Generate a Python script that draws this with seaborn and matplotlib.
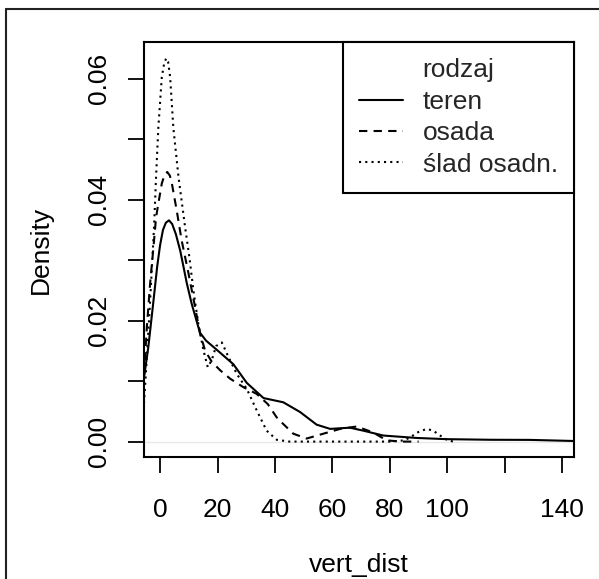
import matplotlib
matplotlib.use("Agg")
import matplotlib.pyplot as plt
from matplotlib.lines import Line2D
import seaborn as sns
import pandas as pd

# density curves
teren_x = [-5.6, -4.1, -2.3, -1.0, 0.0, 1.0, 2.0, 3.1, 4.2, 5.5, 7.0, 8.2, 9.3, 11.0, 12.8,
           13.9, 16.0, 19.7, 25.5, 30.2, 36.0, 42.9, 48.7, 54.5, 59.2, 66.1, 70.8, 77.7,
           89.3, 99.8, 115.0, 128.8, 144.0]
teren_y = [0.0106, 0.0156, 0.0233, 0.0290, 0.0325, 0.0350, 0.0362, 0.0366, 0.0360, 0.0343,
           0.0316, 0.0288, 0.0262, 0.0228, 0.0198, 0.0180, 0.0167, 0.0152, 0.0128, 0.0097,
           0.0072, 0.0065, 0.0049, 0.0028, 0.0021, 0.0023, 0.0018, 0.0010, 0.0006, 0.0004,
           0.0003, 0.00028, 0.0001]

osada_x = [-5.6, -4.6, -3.5, -2.3, -1.4, -0.6, 0.6, 1.6, 2.5, 3.4, 4.1, 5.8, 7.5, 9.9, 12.2,
           13.9, 15.7, 18.0, 20.9, 24.4, 29.0, 33.6, 37.5, 40.6, 42.9, 46.4, 51.0, 56.8,
           62.7, 68.5, 74.2, 78.9, 84.0, 90.0]
osada_y = [0.0110, 0.0190, 0.0260, 0.0322, 0.0371, 0.0394, 0.0427, 0.0442, 0.0446, 0.0440,
           0.0427, 0.0382, 0.0333, 0.0278, 0.0222, 0.0179, 0.0150, 0.0132, 0.0118, 0.0104,
           0.0090, 0.0079, 0.0062, 0.0040, 0.0029, 0.0013, 0.0005, 0.0013, 0.0021, 0.0025,
           0.0015, 0.0002, 0.0, 0.0]

slad_x = [-5.6, -4.6, -3.5, -2.1, -1.4, -0.6, 0.6, 1.4, 2.1, 2.8, 3.5, 4.6, 6.4, 8.7, 10.2,
          11.6, 13.3, 15.1, 16.6, 18.0, 19.5, 21.5, 23.8, 26.7, 30.2, 33.7, 37.1, 40.6, 45.0,
          60.0, 80.0, 85.0, 87.0, 90.0, 92.8, 95.1, 97.5, 99.8, 102.0]
slad_y = [0.0063, 0.0140, 0.0230, 0.0355, 0.0438, 0.0520, 0.0603, 0.0625, 0.0634, 0.0628,
          0.0603, 0.0520, 0.0438, 0.0355, 0.0305, 0.0250, 0.0195, 0.0151, 0.0123, 0.0135,
          0.0158, 0.0164, 0.0140, 0.0112, 0.0087, 0.0051, 0.0018, 0.0003, 0.0, 0.0, 0.0,
          0.0002, 0.0007, 0.0016, 0.0021, 0.0018, 0.0010, 0.0003, 0.0]

series_labels = ["teren", "osada", "ślad osadn."]
legend_title = "rodzaj"
x_ticks = [0, 20, 40, 60, 80, 100, 120, 140]
x_tick_labels = ["0", "20", "40", "60", "80", "100", "", "140"]
y_ticks = [0.00, 0.01, 0.02, 0.03, 0.04, 0.05, 0.06]
y_tick_labels = ["0.00", "", "0.02", "", "0.04", "", "0.06"]

sns.set_theme(style="white")
plt.rcParams['font.family'] = ['Liberation Sans', 'DejaVu Sans']

W, H = 599, 579
fig = plt.figure(figsize=(W / 100, H / 100), dpi=100)
ax = fig.add_axes([144 / W, 1 - 457 / H, (574 - 144) / W, (457 - 42) / H])

styles = ["-", (0, (4, 3)), (0, (1, 2))]
xs = [teren_x, osada_x, slad_x]
ys = [teren_y, osada_y, slad_y]
lw = 1.5
ax.axhline(0, color="#e8e8e8", lw=1.0, zorder=1)
for x, y, ls in zip(xs, ys, styles):
    sns.lineplot(x=x, y=y, ax=ax, color="black", linewidth=lw, linestyle=ls, zorder=3)

ax.set_xlim(-5.6, 144.1)
ax.set_ylim(-0.00255, 0.0661)
ax.set_xticks(x_ticks)
ax.set_xticklabels(x_tick_labels)
ax.set_yticks(y_ticks)
ax.set_yticklabels(y_tick_labels, rotation=90, va="center")
fs = 19
ax.tick_params(axis="both", direction="out", length=11.5, width=1.3, color="black",
               labelsize=fs, labelcolor="black", left=True, bottom=True)
ax.tick_params(axis="x", pad=18)
ax.tick_params(axis="y", pad=12)
for s in ax.spines.values():
    s.set_color("black")
    s.set_linewidth(1.5)
ax.set_xlabel("vert_dist", fontsize=fs, color="black", labelpad=22)
ax.set_ylabel("Density", fontsize=fs, color="black", labelpad=25)

handles = [Line2D([0], [0], color="black", lw=lw, linestyle=ls) for ls in styles]
leg = ax.legend(handles, series_labels, title=legend_title, loc="upper right",
                bbox_to_anchor=(1.0, 1.0), borderaxespad=0.0, fontsize=fs,
                title_fontsize=fs, frameon=True, fancybox=False, handlelength=1.65,
                handletextpad=0.75, labelspacing=0.28, borderpad=0.62)
leg.get_frame().set_edgecolor("black")
leg.get_frame().set_linewidth(1.5)
leg.get_frame().set_alpha(1.0)

# outer frame (top and left edges)
fig.add_artist(Line2D([6 / W, 1.0], [1 - 9 / H, 1 - 9 / H], color="#222222", lw=1.5,
                      transform=fig.transFigure))
fig.add_artist(Line2D([6 / W, 6 / W], [0.0, 1 - 9 / H], color="#222222", lw=1.5,
                      transform=fig.transFigure))

fig.savefig("out.png", dpi=100, facecolor="white")
